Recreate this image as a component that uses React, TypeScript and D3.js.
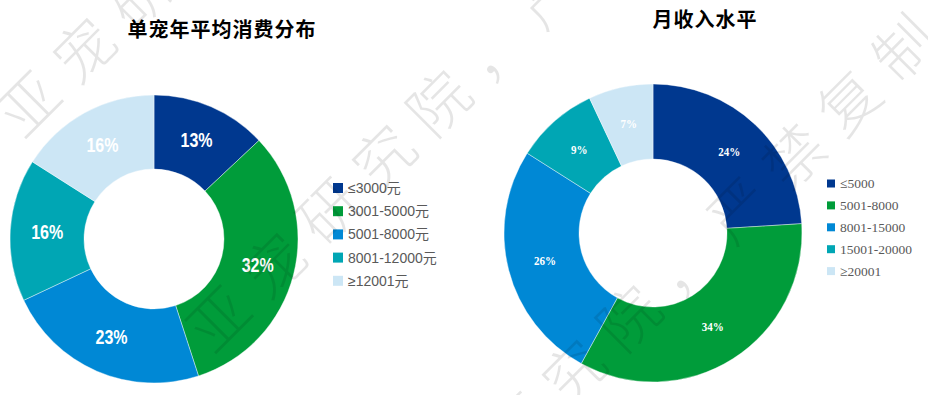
import React from "react";
import * as d3 from "d3";

// 单宠年平均消费分布
const spendLabels = ["≤3000元", "3001-5000元", "5001-8000元", "8001-12000元", "≥12001元"];
const spendValues = [13, 32, 23, 16, 16];

// 月收入水平
const incomeLabels = ["≤5000", "5001-8000", "8001-15000", "15001-20000", "≥20001"];
const incomeValues = [24, 34, 26, 9, 7];

const palette = ["#00388F", "#009C3A", "#0088D5", "#00A6B4", "#CCE6F5"];

const watermark = "亚宠研究院，严禁复制";

type DonutProps = {
  labels: string[];
  values: number[];
  cx: number;
  cy: number;
  outer: number;
  inner: number;
  title: string;
  titleX: number;
  titleY: number;
  legendX: number;
  legendY: number;
  legendStep: number;
  legendBox: number;
  legendFont: string;
  legendSize: number;
  labelFont: string;
  labelSize: number;
  labelSqueeze: number;
};

function Donut(p: DonutProps) {
  const pie = d3.pie<number>().sort(null).value(d => d);
  const arcs = pie(p.values);
  const arc = d3.arc<d3.PieArcDatum<number>>().innerRadius(p.inner).outerRadius(p.outer);
  const mid = d3.arc<d3.PieArcDatum<number>>()
    .innerRadius((p.inner + p.outer) / 2)
    .outerRadius((p.inner + p.outer) / 2);
  const color = d3.scaleOrdinal<string, string>().domain(p.labels).range(palette);
  const legendY = d3.scalePoint<string>().domain(p.labels)
    .range([p.legendY, p.legendY + p.legendStep * (p.labels.length - 1)]);

  return (
    <g>
      <text x={p.titleX} y={p.titleY} textAnchor="middle" dominantBaseline="central"
        style={{ font: "bold 20px 'Noto Sans CJK SC', sans-serif", letterSpacing: "1px" }} fill="#000">
        {p.title}
      </text>
      <g transform={`translate(${p.cx},${p.cy})`}>
        {arcs.map((a, i) => (
          <path key={i} d={arc(a) || ""} fill={color(p.labels[i])} stroke="#fff" strokeWidth={0.4} />
        ))}
        {arcs.map((a, i) => {
          const [x, y] = mid.centroid(a);
          return (
            <text key={"l" + i} transform={`translate(${x},${y}) scale(${p.labelSqueeze},1)`}
              textAnchor="middle" dominantBaseline="central"
              fill="#fff" style={{ font: `bold ${p.labelSize}px ${p.labelFont}` }}>
              {p.values[i]}%
            </text>
          );
        })}
      </g>
      {p.labels.map(l => (
        <g key={l} transform={`translate(${p.legendX},${legendY(l)})`}>
          <rect x={0} y={-p.legendBox / 2} width={p.legendBox} height={p.legendBox} fill={color(l)} />
          <text x={p.legendBox + 5} y={0} dominantBaseline="central" fill="#595959"
            style={{ font: `${p.legendSize}px ${p.legendFont}` }}>
            {l}
          </text>
        </g>
      ))}
    </g>
  );
}

export default function App() {
  // watermark rows: start of each row and per-character step
  const rows = [[26, 101], [216, 316], [406, 531]];
  const step = [55, -54];
  return (
    <svg width={928} height={395} style={{ position: "absolute", left: 0, top: 0, background: "#fff" }}>
      <Donut labels={spendLabels} values={spendValues} cx={154} cy={239} outer={144} inner={70}
        title="单宠年平均消费分布" titleX={222} titleY={28}
        legendX={333} legendY={188} legendStep={23.2} legendBox={10}
        legendFont="'Liberation Sans', 'Noto Sans CJK SC', sans-serif" legendSize={14}
        labelFont="'Liberation Sans', sans-serif" labelSize={20} labelSqueeze={0.8} />
      <Donut labels={incomeLabels} values={incomeValues} cx={653} cy={233} outer={149} inner={74}
        title="月收入水平" titleX={705} titleY={18}
        legendX={827} legendY={183.5} legendStep={21.9} legendBox={8}
        legendFont="'Liberation Serif', 'Noto Sans CJK SC', serif" legendSize={13.5}
        labelFont="'Liberation Serif', serif" labelSize={13} labelSqueeze={0.85} />
      <g fill="#000" fillOpacity={0.1} style={{ font: "300 60px 'Noto Sans CJK SC', sans-serif" }}>
        {rows.map((r, ri) =>
          Array.from(watermark).map((ch, i) => (
            <text key={ri + "-" + i} textAnchor="middle" dominantBaseline="central"
              transform={`translate(${r[0] + step[0] * i},${r[1] + step[1] * i}) rotate(-45)`}>
              {ch}
            </text>
          ))
        )}
      </g>
    </svg>
  );
}
